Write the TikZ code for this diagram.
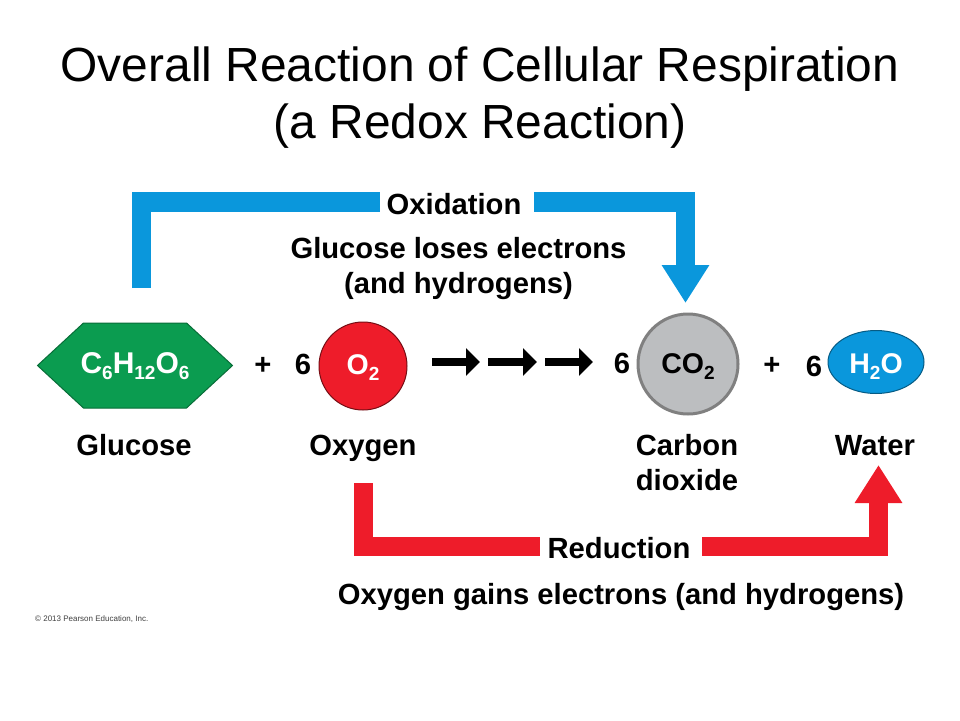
\documentclass[tikz,border=0pt]{standalone}
\usepackage{fontspec}
\setmainfont{Liberation Sans}
\usetikzlibrary{shapes.geometric,shapes.symbols,arrows.meta}
\definecolor{bandblue}{HTML}{0A97DC}
\definecolor{bandred}{HTML}{EE1C2A}
\definecolor{glugreen}{HTML}{0B9C50}
\definecolor{cogray}{HTML}{BCBEC0}
\newcommand{\chemsub}[1]{\raisebox{-6pt}{\fontsize{19}{19}\selectfont #1}}

\begin{document}
\begin{tikzpicture}[x=1pt,y=-1pt,
    titlelabel/.style={font=\fontsize{47.9}{57}\selectfont, align=center, inner sep=0pt},
    lab/.style={font=\fontsize{29.2}{35}\selectfont\bfseries, align=center, inner sep=0pt},
    baselab/.style={lab, anchor=base},
    mol/.style={inner sep=0pt, font=\fontsize{28.5}{28}\selectfont\bfseries},
    band/.style={line width=19.5pt},
    oxband/.style={band, draw=bandblue},
    redband/.style={band, draw=bandred},
    bigtip/.style={-{Triangle[length=38pt,width=45pt]}},
    stepper/.style={line width=8pt, -{Triangle[length=14pt,width=27pt]}}]
    \useasboundingbox (0,0) rectangle (960,720);
    \fill[white] (0,0) rectangle (960,720);
    \node[titlelabel] (T) at (480,98) {Overall Reaction of Cellular Respiration\\(a Redox Reaction)};
    % molecules
    \node[mol, shape=signal, signal to=east and west, signal pointer angle=85.5, draw=glugreen!70!black, fill=glugreen, line width=1pt,
        minimum width=195pt, minimum height=85pt, inner xsep=-3.5pt, text=white, text height=20pt, text depth=5pt, font=\fontsize{30}{28}\selectfont\bfseries] (G) at (135,365.5) {C\chemsub{6}H\chemsub{12}O\chemsub{6}};
    \node[mol, shape=circle, draw=bandred!50!black, fill=bandred, line width=1pt, minimum size=88pt, text=white, text height=20pt, text depth=4pt] (O) at (363,366) {O\chemsub{2}};
    \node[mol, shape=circle, draw=gray, fill=cogray, line width=3pt, minimum size=100pt, text height=22pt, text depth=4pt] (C) at (688,364) {CO\chemsub{2}};
    \node[mol, shape=ellipse, draw=bandblue!60!black, fill=bandblue, line width=1pt, minimum width=96pt, minimum height=63pt, text=white, text height=24pt, text depth=2pt] (W) at (876,362) {H\chemsub{2}O};
    % plus signs and counts
    \node[baselab] (P1) at (263,374) {+};
    \node[baselab] (N1) at (303,374) {6};
    \node[baselab] (N2) at (622,373) {6};
    \node[baselab] (P2) at (772,374) {+};
    \node[baselab] (N3) at (814,376) {6};
    % names
    \node[baselab] (GL) at (134,455) {Glucose};
    \node[baselab] (OL) at (363,455) {Oxygen};
    \node[lab] (CL) at (687,462.5) {Carbon\\dioxide};
    \node[baselab] (WL) at (875,455) {Water};
    % three steps
    \coordinate (S0) at (432,362);
    \coordinate (S1) at (480,362);
    \coordinate (S2) at (488,362);
    \coordinate (S3) at (537,362);
    \coordinate (S4) at (545,362);
    \coordinate (S5) at (593,362);
    \draw[stepper] (S0) -- (S1);
    \draw[stepper] (S2) -- (S3);
    \draw[stepper] (S4) -- (S5);
    % oxidation
    \node[baselab] (OX) at (454,214) {Oxidation};
    \node[lab] (OXT) at (458.5,268.5) {Glucose loses electrons\\(and hydrogens)};
    \coordinate (A0) at (141.5,288);
    \coordinate (A1) at (380,202);
    \coordinate (A2) at (534,202);
    \coordinate (A3) at (685.5,303);
    \draw[oxband] (A0) |- (A1);
    \draw[oxband, bigtip] (A2) -| (A3);
    % reduction
    \node[baselab] (RD) at (619,558) {Reduction};
    \node[baselab] (RDT) at (621,604) {Oxygen gains electrons (and hydrogens)};
    \coordinate (B0) at (363.5,483);
    \coordinate (B1) at (540,546.5);
    \coordinate (B2) at (702,546.5);
    \coordinate (B3) at (878.5,465);
    \draw[redband] (B0) |- (B1);
    \draw[redband, bigtip] (B2) -| (B3);
    \node[anchor=west, inner sep=0pt, text=black!75, font=\fontsize{8}{10}\selectfont] (CR) at (35,619) {© 2013 Pearson Education, Inc.};
\end{tikzpicture}
\end{document}
